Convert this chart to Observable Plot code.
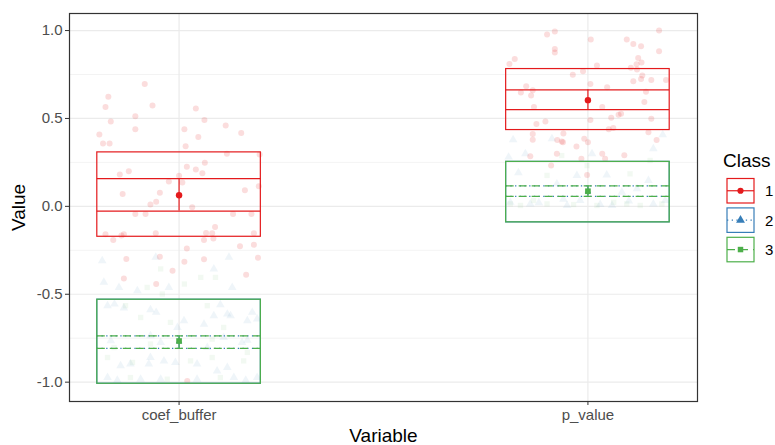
<!DOCTYPE html>
<html><head><meta charset="utf-8">
<script src="https://cdn.jsdelivr.net/npm/d3@7"></script>
<script src="https://cdn.jsdelivr.net/npm/@observablehq/plot@0.6"></script>
<style>
body{margin:0;background:#fff;font-family:"Liberation Sans",Arial,sans-serif}
#chart svg{display:block;font-family:"Liberation Sans",Arial,sans-serif}
</style>
</head><body><div id="chart"></div>
<script>
// ---- data ----
const variables = ["coef_buffer", "p_value"];
const classes = ["1", "2", "3"];
const classColors = ["#E41A1C", "#377EB8", "#4DAF4A"];
const yTicks = [-1, -0.5, 0, 0.5, 1];
const yMinor = [-0.75, -0.25, 0.25, 0.75];

// summaries (one row per variable x class)
const summaryVariable = ["coef_buffer", "p_value", "coef_buffer", "p_value", "coef_buffer", "p_value"];
const summaryClass    = ["1", "1", "2", "2", "3", "3"];
const boxLow   = [-0.173, 0.434, -1.009, -0.091, -1.009, -0.091];
const boxHigh  = [ 0.307, 0.781, -0.531,  0.253, -0.531,  0.253];
const lineLow  = [-0.027, 0.550, -0.808,  0.057, -0.808,  0.057];
const lineHigh = [ 0.158, 0.663, -0.737,  0.116, -0.737,  0.116];
const meanVal  = [ 0.063, 0.604, -0.768,  0.085, -0.766,  0.086];

// jittered observations: [jitter offset, value]
const jitterC1Coef = [[-0.084,0.696],[-0.173,0.624],[-0.180,0.565],[-0.065,0.573],[-0.107,0.512],[-0.167,0.483],[-0.107,0.438],[-0.195,0.409],[-0.186,0.358],[-0.170,0.358],[0.041,0.557],[0.062,0.491],[0.013,0.438],[0.114,0.460],[0.152,0.417],[0.047,0.394],[0.016,0.342],
[0.117,0.299],[0.197,0.295],[-0.145,0.181],[-0.123,0.200],[0.019,0.225],[0.041,0.210],[0.063,0.248],[0.057,0.189],[0.000,0.174],[-0.025,0.141],[0.008,0.136],[-0.138,0.071],[-0.047,0.077],[-0.070,0.010],[-0.056,0.026],[0.161,0.092],[0.195,0.115],[0.032,-0.005],[-0.107,-0.043],[-0.082,-0.043],[0.132,-0.043],[0.177,-0.043],[-0.180,-0.159],[-0.161,-0.191],[-0.141,-0.166],[-0.135,-0.159],[-0.057,-0.153],[0.066,-0.151],[0.088,-0.117],[0.061,-0.191],[0.081,-0.153],[0.084,-0.183],[0.183,-0.153],[0.149,-0.227],[0.183,-0.219],[0.019,-0.240],[-0.129,-0.299],[-0.047,-0.286],[0.013,-0.315],[0.061,-0.301],[0.193,-0.293],[-0.016,-0.366],[-0.135,-0.410],[0.164,-0.389],[-0.056,-0.442],[0.020,-0.993]];
const jitterC1P = [[-0.100,0.977],[-0.081,0.994],[0.007,0.949],[0.174,1.000],[0.095,0.949],[0.111,0.924],[0.130,0.911],[0.174,0.882],[-0.081,0.895],[-0.081,0.875],[-0.179,0.838],[-0.192,0.810],[0.123,0.844],[0.131,0.818],[0.119,0.808],[0.105,0.789],[0.120,0.779],[0.022,0.801],[-0.012,0.768],[-0.037,0.749],[0.133,0.745],[0.130,0.724],[0.111,0.711],[0.155,0.719],[0.191,0.719],[-0.151,0.683],[-0.135,0.660],[-0.164,0.647],[-0.139,0.631],[0.006,0.696],[0.047,0.677],[0.142,0.652],[0.138,0.593],[-0.132,0.565],[0.035,0.565],[0.081,0.527],[0.075,0.521],[0.057,0.504],[0.155,0.499],[0.006,0.491],[-0.104,0.483],[-0.126,0.468],[0.062,0.445],[0.051,0.438],[0.148,0.422],[-0.135,0.411],[-0.060,0.415],[-0.135,0.379],[-0.075,0.377],[-0.061,0.365],[-0.009,0.385],[0.000,0.365],[0.168,0.377],[-0.028,0.341],[-0.141,0.285],[-0.090,0.232],[-0.076,0.299],[-0.016,0.271],[0.035,0.299],[0.042,0.271],[0.089,0.291],[-0.002,0.179],[-0.064,0.369]];
const jitterC2Coef = [[-0.188,-0.309],[-0.057,-0.290],[0.122,-0.290],[0.085,-0.356],[-0.184,-0.432],[-0.147,-0.461],[-0.102,-0.480],[-0.025,-0.461],[0.130,-0.461],[-0.175,-0.565],[-0.158,-0.556],[-0.135,-0.578],[-0.070,-0.588],[-0.056,-0.603],[-0.004,-0.689],[0.012,-0.651],[0.061,-0.670],[0.085,-0.622],[0.101,-0.560],[0.118,-0.613],[0.126,-0.622],[0.167,-0.651],[0.179,-0.603],[0.191,-0.641],[-0.167,-0.765],[-0.070,-0.736],[-0.045,-0.774],[0.109,-0.746],[0.154,-0.774],[0.167,-0.761],[0.069,-0.803],[-0.070,-0.860],[-0.037,-0.879],[-0.009,-0.888],[0.044,-0.897],[0.118,-0.917],[-0.074,-0.897],[-0.119,-0.897],[-0.143,-0.907],[0.093,-0.936],[-0.175,-0.974],[-0.151,-0.989],[-0.094,-0.983],[-0.045,-0.983],[0.044,-0.983],[0.134,-0.974],[0.163,-0.989],[0.191,-0.974]];
const jitterC2P = [[-0.183,0.379],[-0.088,0.385],[0.183,0.407],[-0.194,0.280],[-0.153,0.299],[0.010,0.299],[0.160,0.328],[-0.170,0.191],[-0.027,0.176],[0.046,0.179],[0.148,0.147],[-0.076,0.128],[0.120,0.100],[0.083,0.080],[-0.019,0.033],[0.189,0.033],[-0.190,0.023],[-0.141,0.014],[-0.051,0.005],[0.059,0.005],[0.160,0.014],[-0.120,0.020],[0.030,0.010],[0.100,0.030],[-0.060,0.040]];
const jitterC3Coef = [[-0.045,-0.356],[0.013,-0.442],[-0.078,-0.461],[0.053,-0.404],[0.089,-0.404],[-0.041,-0.499],[-0.131,-0.565],[-0.094,-0.632],[-0.021,-0.660],[0.069,-0.565],[0.109,-0.689],[-0.175,-0.860],[-0.114,-0.888],[0.028,-0.879],[0.081,-0.860],[0.158,-0.879],[-0.119,-0.974],[-0.029,-0.983],[0.101,-0.974],[-0.159,-0.803],[0.167,-0.831],[-0.070,-0.783],[0.081,-0.755]];
const jitterC3P = [[-0.100,0.176],[-0.064,0.289],[0.103,0.185],[-0.190,0.014],[-0.165,0.005],[-0.100,0.014],[-0.035,0.010],[0.022,0.005],[0.095,0.014],[0.128,0.005],[0.181,0.014],[-0.133,0.033],[0.063,0.023],[0.152,0.261],[-0.002,0.232]];

// ---- build tables ----
const pos = v => variables.indexOf(v) + 1;
const colorOf = c => classColors[classes.indexOf(c)];
const half = 0.2;
const pts = (arr, variable, cls) => arr.map(([dx, value]) => ({variable, cls, x: pos(variable) + dx, value}));
const points = [
  ...pts(jitterC1Coef, "coef_buffer", "1"), ...pts(jitterC1P, "p_value", "1"),
  ...pts(jitterC2Coef, "coef_buffer", "2"), ...pts(jitterC2P, "p_value", "2"),
  ...pts(jitterC3Coef, "coef_buffer", "3"), ...pts(jitterC3P, "p_value", "3")
];
const summary = summaryVariable.map((v, i) => ({
  variable: v, cls: summaryClass[i], x: pos(v),
  lo: boxLow[i], hi: boxHigh[i], l1: lineLow[i], l2: lineHigh[i], m: meanVal[i]
}));

const dashes = {"1": null, "2": "1.3,3.4", "3": "8,5"};
const symbols = {"1": "circle", "2": "triangle", "3": "square"};
const ptOpacity = {"1": 0.15, "2": 0.08, "3": 0.07};
const SW = 1.2;

const marks = [
  Plot.ruleY(yMinor, {stroke: "#ebebeb", strokeWidth: 0.6}),
  Plot.ruleY(yTicks, {stroke: "#ebebeb", strokeWidth: 1.2}),
  Plot.ruleX([1, 2], {stroke: "#ebebeb", strokeWidth: 1.2})
];
for (const c of classes) {
  marks.push(Plot.dot(points.filter(d => d.cls === c), {
    x: "x", y: "value", symbol: symbols[c], r: c === "2" ? 3.2 : 3,
    fill: colorOf(c), fillOpacity: ptOpacity[c], stroke: "none"
  }));
}
for (const c of classes) {
  const s = summary.filter(d => d.cls === c);
  const col = colorOf(c);
  marks.push(
    Plot.rect(s, {x1: d => d.x - half, x2: d => d.x + half, y1: "lo", y2: "hi", fill: "none", stroke: col, strokeWidth: SW}),
    Plot.ruleY(s, {x1: d => d.x - half, x2: d => d.x + half, y: "l1", stroke: col, strokeWidth: SW, strokeDasharray: dashes[c]}),
    Plot.ruleY(s, {x1: d => d.x - half, x2: d => d.x + half, y: "l2", stroke: col, strokeWidth: SW, strokeDasharray: dashes[c]}),
    Plot.ruleX(s, {x: "x", y1: "l1", y2: "l2", stroke: col, strokeWidth: SW}),
    Plot.dot(s, {x: "x", y: "m", symbol: symbols[c], r: c === "2" ? 2.4 : 3.2, fill: col, stroke: "none"})
  );
}
marks.push(
  Plot.frame({stroke: "#333333", strokeWidth: 1.2}),
  Plot.axisY(yTicks, {tickFormat: d => d.toFixed(1), tickSize: 4, tickPadding: 3, fontSize: 15, stroke: "#333333", fill: "#4d4d4d", label: null}),
  Plot.axisX([1, 2], {tickFormat: d => variables[d - 1], tickSize: 4, tickPadding: 4, fontSize: 15, stroke: "#333333", fill: "#4d4d4d", label: null}),
  Plot.text(["Value"], {text: d => d, frameAnchor: "left", dx: -51, rotate: -90, fontSize: 19, fill: "#000", textAnchor: "middle", lineAnchor: "middle"}),
  Plot.text(["Variable"], {text: d => d, frameAnchor: "bottom", dy: 34, fontSize: 19, fill: "#000", textAnchor: "middle", lineAnchor: "middle"})
);

const plot = Plot.plot({
  width: 775, height: 445,
  marginLeft: 69, marginRight: 78, marginTop: 13, marginBottom: 44,
  x: {type: "linear", domain: [0.732, 2.268], axis: null},
  y: {domain: [-1.11, 1.097], axis: null},
  style: {fontFamily: "'Liberation Sans', Arial, sans-serif", color: "#4d4d4d", background: "#fff"},
  marks
});
document.getElementById("chart").appendChild(plot);

// ---- legend ----
const svg = d3.select(plot);
const lg = svg.append("g").attr("font-family", "'Liberation Sans', Arial, sans-serif").attr("text-anchor", "start");
lg.append("text").attr("x", 723).attr("y", 167).attr("font-size", 19).attr("fill", "#000").attr("text-anchor", "start").text("Class");
const symGen = {"1": d3.symbolCircle, "2": d3.symbolTriangle, "3": d3.symbolSquare};
classes.forEach((c, i) => {
  const y0 = 178.5 + i * 29.4, kh = 24.5, kw = 27, x0 = 727;
  const cy = y0 + kh / 2, col = colorOf(c);
  lg.append("rect").attr("x", x0).attr("y", y0).attr("width", kw).attr("height", kh)
    .attr("fill", "#fff").attr("stroke", col).attr("stroke-width", SW);
  lg.append("line").attr("x1", x0).attr("x2", x0 + kw).attr("y1", cy).attr("y2", cy)
    .attr("stroke", col).attr("stroke-width", SW).attr("stroke-dasharray", dashes[c]);
  lg.append("path").attr("transform", `translate(${x0 + kw / 2},${cy})`)
    .attr("d", d3.symbol(symGen[c], c === "2" ? 34 : 30)()).attr("fill", col);
  lg.append("text").attr("x", 765).attr("y", cy).attr("dy", "0.36em").attr("font-size", 15).attr("fill", "#000").attr("text-anchor", "start").text(c);
});
</script>
</body></html>
